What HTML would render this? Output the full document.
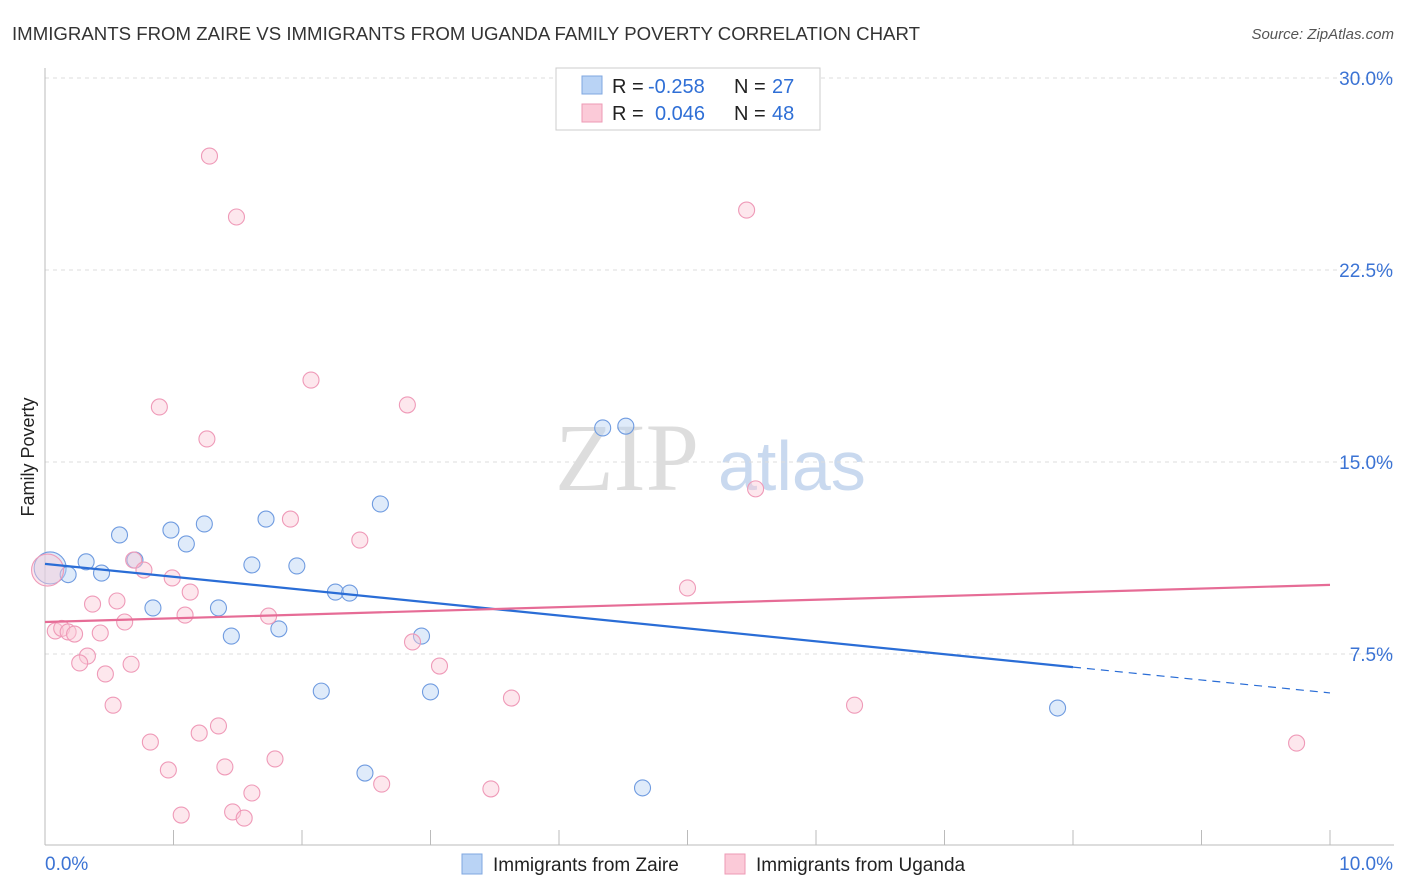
<!DOCTYPE html>
<html><head><meta charset="utf-8"><style>
body{margin:0;background:#fff;font-family:"Liberation Sans",sans-serif;}
#wrap{position:relative;width:1406px;height:892px;overflow:hidden;}
</style></head><body>
<div id="wrap">
<svg id="svg" width="1406" height="892" xmlns="http://www.w3.org/2000/svg">
<text x="12" y="40" font-size="18" fill="#333" textLength="908" lengthAdjust="spacingAndGlyphs">IMMIGRANTS FROM ZAIRE VS IMMIGRANTS FROM UGANDA FAMILY POVERTY CORRELATION CHART</text>
<text x="1394" y="39" font-size="15" fill="#555" font-style="italic" text-anchor="end">Source: ZipAtlas.com</text>
<text x="34" y="457" font-size="18" fill="#222" text-anchor="middle" transform="rotate(-90 34 457)">Family Poverty</text>
<text x="555" y="490" font-size="96" fill="#ddd" font-family="Liberation Serif">ZIP</text>
<text x="718" y="490" font-size="70" fill="#c9d9ef">atlas</text>
<g id="grid"></g><g id="axes"></g><g id="pts"></g><g id="lines"></g>
<g>
<rect x="556" y="68" width="264" height="62" fill="#fff" stroke="#ccc"/>
<rect x="582" y="76" width="20" height="18" fill="#b9d3f5" stroke="#7fa7e0"/>
<rect x="582" y="104" width="20" height="18" fill="#fbcad8" stroke="#ee9ab5"/>
<g font-size="20">
<text x="612" y="93" fill="#222">R =</text><text x="648" y="93" fill="#2f6fd6">-0.258</text>
<text x="734" y="93" fill="#222">N =</text><text x="772" y="93" fill="#2f6fd6">27</text></g>
<g font-size="20">
<text x="612" y="120" fill="#222">R =</text><text x="655" y="120" fill="#2f6fd6">0.046</text>
<text x="734" y="120" fill="#222">N =</text><text x="772" y="120" fill="#2f6fd6">48</text></g>
</g>
<g>
<rect x="462" y="854" width="20" height="20" fill="#b9d3f5" stroke="#7fa7e0"/>
<text x="493" y="871" font-size="19" fill="#222">Immigrants from Zaire</text>
<rect x="725" y="854" width="20" height="20" fill="#fbcad8" stroke="#ee9ab5"/>
<text x="756" y="871" font-size="19" fill="#222">Immigrants from Uganda</text>
</g>
</svg>
</div>
<script>
const yTicks=[7.5,15,22.5,30];
const yTickLabels=["7.5%","15.0%","22.5%","30.0%"];
const zaireX=[0.04,0.18,0.32,0.44,0.58,0.70,0.84,0.98,1.10,1.24,1.35,1.45,1.61,1.72,1.82,1.96,2.15,2.26,2.37,2.49,2.61,2.93,3.0,4.34,4.52,4.65,7.88];
const zaireY=[10.86,10.6,11.1,10.66,12.15,11.17,9.3,12.34,11.8,12.58,9.3,8.2,10.98,12.77,8.48,10.94,6.05,9.92,9.88,2.85,13.36,8.2,6.02,16.33,16.4,2.27,5.39];
const ugandaX=[1.28,1.49,5.46,2.07,0.89,2.82,1.26,5.53,1.91,2.45,0.69,0.77,0.99,1.13,5.0,0.37,0.56,1.09,1.74,0.62,0.08,0.13,0.18,0.23,0.43,2.86,0.33,0.27,0.67,3.07,0.47,0.53,3.63,6.3,1.35,1.2,0.82,9.74,1.79,0.96,1.4,2.62,3.47,1.61,1.06,1.46,1.55,0.02];
const ugandaY=[26.95,24.57,24.84,18.2,17.15,17.23,15.9,13.95,12.77,11.95,11.17,10.78,10.47,9.92,10.08,9.45,9.57,9.02,8.98,8.75,8.4,8.5,8.36,8.28,8.32,7.97,7.42,7.15,7.1,7.03,6.72,5.5,5.78,5.5,4.69,4.41,4.06,4.02,3.4,2.97,3.09,2.42,2.23,2.07,1.21,1.33,1.09,10.78];
const zaireTrend=[11.02,5.98];
const ugandaTrend=[8.75,10.2];
const NS="http://www.w3.org/2000/svg";
const X=v=>45+v*128.5, Y=v=>846-v*25.6;
function mk(tag,attrs,parent){const e=document.createElementNS(NS,tag);for(const k in attrs)e.setAttribute(k,attrs[k]);document.getElementById(parent).appendChild(e);return e;}
yTicks.forEach((t,i)=>{
 const g=mk('line',{x1:45,x2:1394,y1:Y(t),y2:Y(t),stroke:'#ddd','stroke-dasharray':'4,4'},'grid');
 
 
 const l=mk('text',{x:1393,y:Y(t)+7,'font-size':19,fill:'#3b73d4','text-anchor':'end'},'grid');
 l.textContent=yTickLabels[i];
 
 
});
let a=mk('line',{x1:45,x2:45,y1:68,y2:845,stroke:'#bbb'},'axes');


a=mk('line',{x1:45,x2:1394,y1:845,y2:845,stroke:'#bbb'},'axes');


for(let i=0;i<=10;i++){const t=mk('line',{x1:X(i),x2:X(i),y1:830,y2:845,stroke:'#bbb'},'axes');
 
 }
let tl=mk('text',{x:45,y:870,'font-size':19,fill:'#3b73d4'},'axes');tl.textContent='0.0%';


tl=mk('text',{x:1393,y:870,'font-size':19,fill:'#3b73d4','text-anchor':'end'},'axes');tl.textContent='10.0%';


function pts(xs,ys,fill,stroke,name){xs.forEach((x,i)=>{const big=i===xs.length-1&&name==='uganda-point'||i===0&&name==='zaire-point';
 const c=mk('circle',{cx:X(x),cy:Y(ys[i]),r:big?16:8,fill:fill,'fill-opacity':0.45,stroke:stroke,'stroke-width':1.1},'pts');
 
 });}
pts(zaireX,zaireY,'#b9d3f5','#6f9be0','zaire-point');
pts(ugandaX,ugandaY,'#fbcad8','#ef9ab8','uganda-point');
const zs=(zaireTrend[1]-zaireTrend[0])/10, split=8.0;
let ln=mk('line',{x1:X(0),y1:Y(zaireTrend[0]),x2:X(split),y2:Y(zaireTrend[0]+zs*split),stroke:'#2a6dd6','stroke-width':2.2},'lines');


ln=mk('line',{x1:X(split),y1:Y(zaireTrend[0]+zs*split),x2:X(10),y2:Y(zaireTrend[1]),stroke:'#2a6dd6','stroke-width':1.2,'stroke-dasharray':'8,6'},'lines');


ln=mk('line',{x1:X(0),y1:Y(ugandaTrend[0]),x2:X(10),y2:Y(ugandaTrend[1]),stroke:'#e66c96','stroke-width':2.2},'lines');


</script>
</body></html>
